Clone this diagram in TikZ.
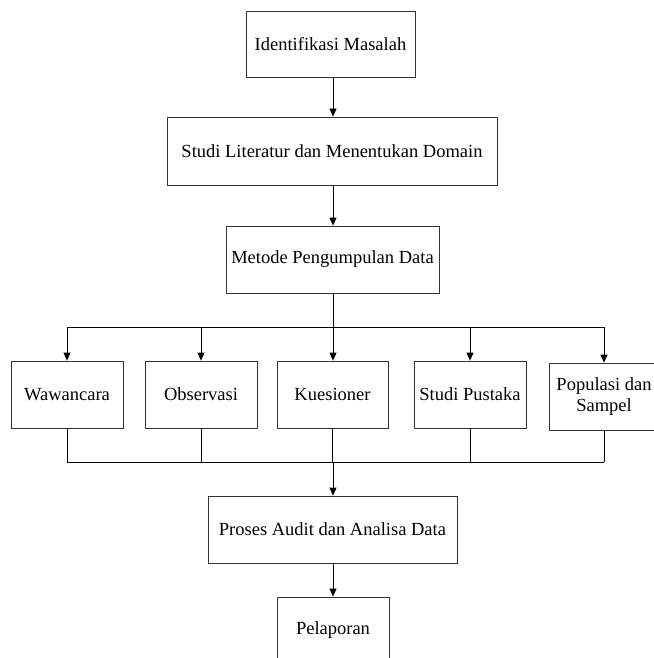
\documentclass[tikz,border=0pt]{standalone}
\usepackage{fontspec}
\setmainfont{Liberation Serif}
\usetikzlibrary{arrows.meta}
\begin{document}
\begin{tikzpicture}[x=1pt,y=-1pt,
  box/.style={draw=black!80, line width=0.8pt, fill=white, inner sep=0pt, align=center, font=\fontsize{18.5}{21}\selectfont},
  conn/.style={line width=0.8pt},
  arr/.style={conn, -{Triangle[length=8pt,width=7pt]}}]
\useasboundingbox (0,0) rectangle (653,658);
\node[box, minimum width=169pt, minimum height=66pt] (n1) at (330.5,44) {Identifikasi Masalah};
\node[box, minimum width=330pt, minimum height=68pt] (n2) at (332,151) {Studi Literatur dan Menentukan Domain};
\node[box, minimum width=213pt, minimum height=67pt] (n3) at (332.5,259.5) {Metode Pengumpulan Data};
\node[box, minimum width=112pt, minimum height=67pt] (w) at (67,394.5) {Wawancara};
\node[box, minimum width=112pt, minimum height=67pt] (o) at (201,394.5) {Observasi};
\node[box, minimum width=111pt, minimum height=67pt] (k) at (332.5,394.5) {Kuesioner};
\node[box, minimum width=112pt, minimum height=67pt] (s) at (470,394.5) {Studi Pustaka};
\node[box, minimum width=110pt, minimum height=67pt] (p) at (604,396.5) {Populasi dan\\Sampel};
\node[box, minimum width=249pt, minimum height=67pt] (pr) at (332.5,529.5) {Proses Audit dan Analisa Data};
\node[box, minimum width=112pt, minimum height=66pt] (pl) at (333,630) {Pelaporan};
\coordinate (top) at (333,327);
\coordinate (bot) at (333,462);
\draw[arr] (n1.south -| top) -- (top |- n2.north);
\draw[arr] (n2.south -| top) -- (top |- n3.north);
\draw[conn] (w.north |- top) -- (p.north |- top);
\draw[arr] (n3.south -| top) -- (top |- k.north);
\foreach \b in {w,o,s,p} \draw[arr] (\b.north |- top) -- (\b.north);
\foreach \b in {w,o,k,s,p} \draw[conn] (\b.south) -- (\b.south |- bot);
\draw[conn] (w.south |- bot) -- (p.south |- bot);
\draw[arr] (bot) -- (bot |- pr.north);
\draw[arr] (pr.south -| bot) -- (bot |- pl.north);
\end{tikzpicture}
\end{document}
